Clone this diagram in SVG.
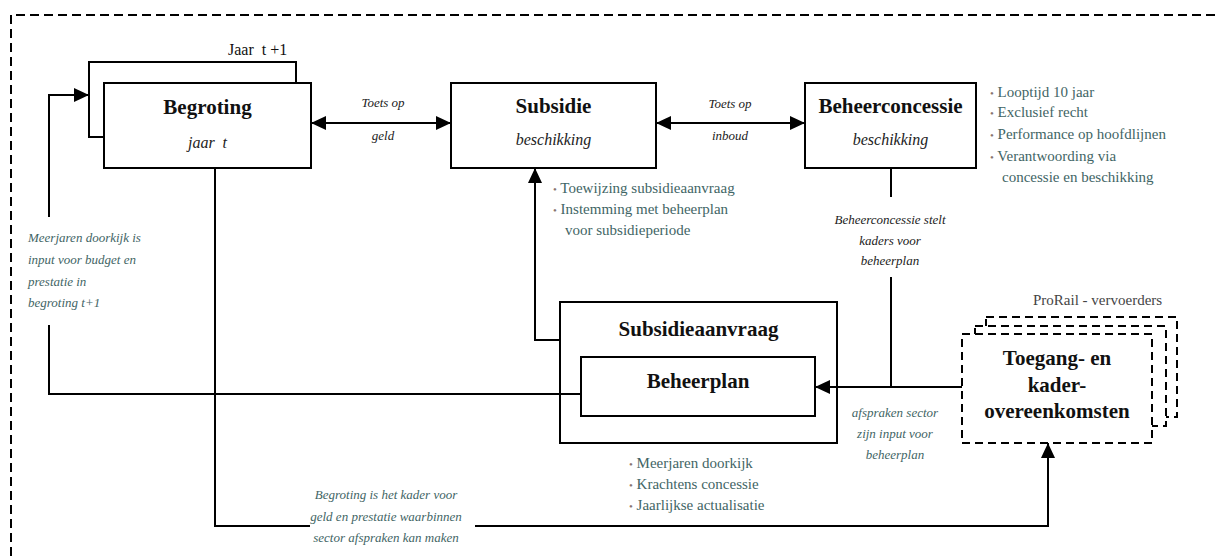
<svg xmlns="http://www.w3.org/2000/svg" width="1215" height="556" viewBox="0 0 1215 556">
  <style>
    text { font-family: "Liberation Serif", "DejaVu Serif", serif; }
    .box { fill: #fff; stroke: #000; stroke-width: 2; }
    .dbox { fill: #fff; stroke: #000; stroke-width: 2; stroke-dasharray: 8 5; }
    .line { fill: none; stroke: #000; stroke-width: 2; }
    .title { font-weight: bold; font-size: 21px; fill: #111; text-anchor: middle; }
    .sub { font-style: italic; font-size: 16px; fill: #222; text-anchor: middle; }
    .lbl { font-style: italic; font-size: 13px; fill: #222; text-anchor: middle; }
    .note { font-style: italic; font-size: 13px; fill: #3f6565; }
    .bul { font-size: 15px; fill: #3f6565; }
    .dot { fill: #8a7470; font-size: 11px; }
  </style>
  <defs>
    <marker id="arrow" markerUnits="userSpaceOnUse" markerWidth="16" markerHeight="14" refX="15" refY="7" orient="auto-start-reverse">
      <path d="M0,0 L15,7 L0,14 z" fill="#000"/>
    </marker>
  </defs>

  <!-- outer dashed frame -->
  <path d="M11,556 V15 H1215" fill="none" stroke="#000" stroke-width="2" stroke-dasharray="9 5"/>

  <!-- Begroting (with next year behind) -->
  <g id="begroting">
    <rect class="box" x="89" y="62" width="207" height="75"/>
    <rect class="box" x="104" y="83" width="207" height="85"/>
    <text x="228" y="55" font-size="16" fill="#111" xml:space="preserve">Jaar  t +1</text>
    <text class="title" x="207.5" y="114">Begroting</text>
    <text class="sub" x="207.5" y="148" xml:space="preserve">jaar  t</text>
  </g>

  <!-- Subsidie beschikking -->
  <g id="subsidie">
    <rect class="box" x="451" y="83" width="205" height="85"/>
    <text class="title" x="553.5" y="113">Subsidie</text>
    <text class="sub" x="553.5" y="145">beschikking</text>
    <text class="bul" x="553" y="193"><tspan class="dot">•</tspan> Toewijzing subsidieaanvraag</text>
    <text class="bul" x="553" y="214"><tspan class="dot">•</tspan> Instemming met beheerplan</text>
    <text class="bul" x="565" y="235">voor subsidieperiode</text>
  </g>

  <!-- Beheerconcessie beschikking -->
  <g id="beheerconcessie">
    <rect class="box" x="805" y="83" width="171" height="85"/>
    <text class="title" x="890.5" y="113">Beheerconcessie</text>
    <text class="sub" x="890.5" y="145">beschikking</text>
    <text class="bul" x="990" y="97"><tspan class="dot">•</tspan> Looptijd 10 jaar</text>
    <text class="bul" x="990" y="117"><tspan class="dot">•</tspan> Exclusief recht</text>
    <text class="bul" x="990" y="139"><tspan class="dot">•</tspan> Performance op hoofdlijnen</text>
    <text class="bul" x="990" y="161"><tspan class="dot">•</tspan> Verantwoording via</text>
    <text class="bul" x="1002" y="182">concessie en beschikking</text>
  </g>

  <!-- Subsidieaanvraag containing Beheerplan -->
  <g id="subsidieaanvraag">
    <rect class="box" x="560" y="302" width="277" height="141"/>
    <text class="title" x="698.5" y="336" font-size="25">Subsidieaanvraag</text>
    <text class="bul" x="629" y="468"><tspan class="dot">•</tspan> Meerjaren doorkijk</text>
    <text class="bul" x="629" y="489"><tspan class="dot">•</tspan> Krachtens concessie</text>
    <text class="bul" x="629" y="510"><tspan class="dot">•</tspan> Jaarlijkse actualisatie</text>
  </g>
  <g id="beheerplan">
    <rect class="box" x="581" y="357" width="234" height="59"/>
    <text class="title" x="698" y="388" font-size="23">Beheerplan</text>
  </g>

  <!-- Toegang- en kaderovereenkomsten (stack) -->
  <g id="toegang">
    <rect class="dbox" x="986" y="317" width="191" height="100"/>
    <rect class="dbox" x="975" y="326" width="191" height="100"/>
    <rect class="dbox" x="962" y="334" width="190" height="109"/>
    <text x="1033" y="305" font-size="15" fill="#444">ProRail - vervoerders</text>
    <text class="title" x="1057" y="365" font-size="24">Toegang- en</text>
    <text class="title" x="1057" y="392" font-size="24">kader-</text>
    <text class="title" x="1057" y="418" font-size="24">overeenkomsten</text>
  </g>

  <!-- connectors, drawn over the boxes -->
  <g id="connectors">
    <path class="line" d="M581,394 H49 V325"/>
    <path class="line" d="M49,217 V95 H89" marker-end="url(#arrow)"/>
    <path class="line" d="M215,168 V526 H310"/>
    <path class="line" d="M475,526 H1048 V443" marker-end="url(#arrow)"/>
    <path class="line" d="M311,123 H451" marker-start="url(#arrow)" marker-end="url(#arrow)"/>
    <path class="line" d="M656,123 H805" marker-start="url(#arrow)" marker-end="url(#arrow)"/>
    <path class="line" d="M560,340 H535 V168" marker-end="url(#arrow)"/>
    <path class="line" d="M891,168 V197"/>
    <path class="line" d="M891,277 V387"/>
    <path class="line" d="M962,387 H815" marker-end="url(#arrow)"/>
    <text class="lbl" x="383" y="107">Toets op</text>
    <text class="lbl" x="383" y="140">geld</text>
    <text class="lbl" x="730" y="108">Toets op</text>
    <text class="lbl" x="730" y="140">inboud</text>
    <text class="lbl" x="890" y="224">Beheerconcessie stelt</text>
    <text class="lbl" x="890" y="245">kaders voor</text>
    <text class="lbl" x="890" y="265">beheerplan</text>
    <text class="note" x="28" y="242">Meerjaren doorkijk is</text>
    <text class="note" x="28" y="264">input voor budget en</text>
    <text class="note" x="28" y="286">prestatie in</text>
    <text class="note" x="28" y="307">begroting t+1</text>
    <text class="note" x="386" y="499" text-anchor="middle">Begroting is het kader voor</text>
    <text class="note" x="386" y="521" text-anchor="middle">geld en prestatie waarbinnen</text>
    <text class="note" x="386" y="542" text-anchor="middle">sector afspraken kan maken</text>
    <text class="note" x="895" y="417" text-anchor="middle">afspraken sector</text>
    <text class="note" x="895" y="438" text-anchor="middle">zijn input voor</text>
    <text class="note" x="895" y="459" text-anchor="middle">beheerplan</text>
  </g>
</svg>
